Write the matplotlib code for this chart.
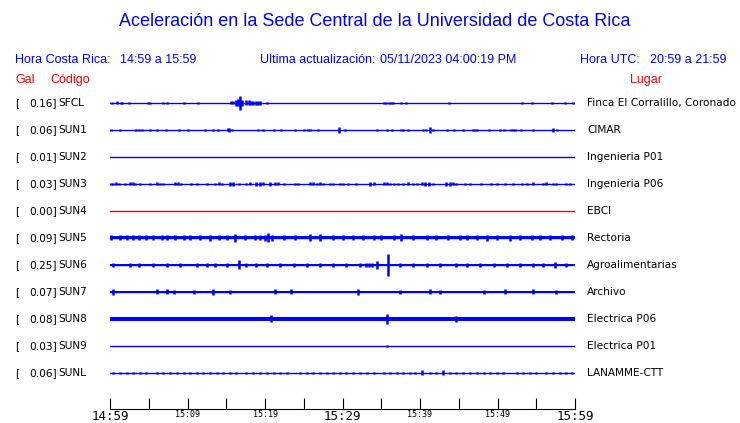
import matplotlib
matplotlib.use("Agg")
import matplotlib.pyplot as plt

# estaciones, valores maximos (Gal) y lugares
codes = ["SFCL", "SUN1", "SUN2", "SUN3", "SUN4", "SUN5", "SUN6", "SUN7", "SUN8", "SUN9", "SUNL"]
gal = [0.16, 0.06, 0.01, 0.03, 0.00, 0.09, 0.25, 0.07, 0.08, 0.03, 0.06]
places = ["Finca El Corralillo, Coronado", "CIMAR", "Ingenieria P01", "Ingenieria P06", "EBCI",
          "Rectoria", "Agroalimentarias", "Archivo", "Electrica P06", "Electrica P01", "LANAMME-CTT"]

# nivel de ruido continuo de cada traza (semi-amplitud)
noise = [0, 0, 0, 0, 0, 1.5, 1.0, 1.3, 1.8, 0, 0.3]

# eventos: (minutos despues de 14:59, semi-amplitud)
events = {
    "SFCL": [(0.2, 1), (0.9, 1.5), (1.4, 1), (1.6, 1), (2.5, 1), (4.9, 1), (5.2, 1), (6.9, 0.8),
             (7.4, 0.8), (9.6, 0.7), (11.3, 0.7), (15.6, 1.5), (15.9, 1.5), (16.2, 3), (16.5, 3.5),
             (16.8, 7), (17.0, 3), (17.6, 2.5), (17.9, 2.5), (18.2, 2), (18.5, 2), (18.8, 2),
             (19.1, 2), (19.3, 2), (20.3, 0.7), (35.3, 1.2), (35.6, 1), (36.0, 1.2), (36.3, 1.2),
             (36.5, 1), (37.5, 1), (38.2, 1), (43.8, 1), (53.2, 1), (54.4, 1), (57.0, 1),
             (58.7, 1), (59.8, 1)],
    "SUN1": [(0.1, 1.3), (1.3, 1), (3.4, 1), (3.7, 1), (4.1, 1), (5.1, 1), (6.0, 1), (7.2, 1.2),
             (8.9, 1.2), (10.1, 1), (12.3, 1), (13.3, 1), (13.9, 1), (15.2, 1.5), (15.4, 1.8),
             (15.8, 1), (19.1, 1), (19.8, 1), (21.2, 1), (22.1, 1), (23.9, 1), (25.0, 1),
             (25.5, 1), (25.8, 1), (26.8, 1), (29.6, 3.2), (30.3, 1.2), (34.4, 1), (35.7, 1),
             (36.4, 1), (37.6, 1), (37.8, 1), (38.5, 1), (40.4, 1), (40.8, 1), (41.3, 3.2),
             (41.7, 1), (43.5, 1), (44.4, 1), (45.6, 1), (46.8, 1.2), (47.1, 1.2), (47.3, 1.2),
             (48.9, 1), (50.3, 1), (50.8, 1), (51.7, 1), (52.0, 1), (52.3, 1), (53.0, 1),
             (54.6, 1), (57.2, 1.8), (57.7, 1)],
    "SUN2": [],
    "SUN3": [(0.1, 1.2), (0.4, 1), (0.8, 1.5), (1.1, 1), (1.9, 1.2), (2.6, 1.5), (3.0, 1.5),
             (3.2, 1.2), (3.9, 1.2), (5.2, 1), (6.0, 1.5), (6.5, 1.2), (6.9, 1), (8.4, 1.5),
             (8.8, 1.5), (9.2, 1.2), (10.5, 1.2), (11.2, 1), (12.5, 1), (13.5, 1.2), (14.0, 1.5),
             (14.5, 1.2), (15.5, 1.8), (15.9, 1.8), (16.6, 1.2), (17.6, 1), (18.1, 1.5),
             (18.9, 1.8), (19.4, 1.8), (19.8, 1.5), (20.6, 1.8), (21.3, 1.5), (21.7, 1.5),
             (22.4, 1.2), (23.9, 1.2), (24.3, 1), (25.8, 1.5), (26.2, 1.5), (26.7, 1.2),
             (27.1, 1.5), (27.5, 1.2), (28.4, 1.2), (28.8, 1.2), (29.7, 1), (30.1, 1.2),
             (30.7, 1), (31.8, 1), (33.5, 1.8), (34.0, 1.5), (35.3, 1.5), (35.7, 1.5),
             (36.1, 1.2), (36.6, 1.2), (37.2, 1.2), (37.8, 1), (38.5, 1.5), (39.1, 1.2),
             (39.6, 1.2), (40.2, 1.5), (40.6, 1.8), (41.1, 1.8), (41.7, 1.2), (43.4, 1.8),
             (43.9, 1.8), (44.3, 1.5), (44.7, 1.2), (45.8, 1), (46.4, 1), (47.9, 1), (49.2, 1.2),
             (49.9, 1.2), (51.0, 1.2), (52.0, 1.2), (53.1, 1.2), (53.8, 1.2), (54.6, 1.5),
             (55.9, 1.2), (56.3, 1.5), (57.2, 1.2), (57.6, 1.2), (58.9, 1), (59.3, 1)],
    "SUN4": [],
    "SUN5": [(0.1, 2.5), (1.3, 2.5), (2.2, 2.5), (3.0, 2.5), (3.7, 2.5), (4.7, 2.5), (5.6, 2.5),
             (6.7, 2.5), (7.3, 2.5), (8.4, 2.5), (9.5, 2.5), (10.3, 2.5), (11.6, 2.5), (12.9, 3),
             (14.0, 2.5), (15.1, 2.5), (16.1, 4), (17.4, 2.5), (18.7, 2.5), (19.4, 2.5),
             (20.0, 3), (20.4, 4.5), (20.9, 3), (22.4, 2.5), (23.9, 2.5), (25.8, 3.5), (27.1, 3.5),
             (28.8, 2.5), (30.1, 2.5), (31.4, 2.5), (32.7, 2.5), (34.0, 2.5), (35.0, 2.5),
             (36.6, 2.5), (37.6, 3.5), (39.1, 2.5), (40.9, 2.5), (42.1, 2.5), (43.6, 2.5),
             (45.2, 2.5), (46.0, 2.5), (47.3, 2.5), (48.6, 3), (49.9, 2.5), (51.6, 3), (52.9, 2.5),
             (54.4, 2.5), (55.5, 2.5), (56.8, 2.5), (58.3, 2.5), (59.6, 2.5)],
    "SUN6": [(0.4, 2), (2.6, 1.8), (3.7, 2), (5.6, 1.8), (7.3, 1.8), (9.0, 1.8), (11.2, 2),
             (12.5, 1.8), (13.5, 1.8), (15.1, 1.8), (16.7, 4.5), (17.6, 2), (18.9, 1.8),
             (20.2, 1.8), (21.9, 1.8), (23.7, 1.8), (25.4, 1.8), (27.1, 1.8), (28.8, 1.8),
             (30.5, 1.8), (32.3, 1.8), (33.0, 1.8), (33.4, 2), (33.8, 2), (34.4, 4), (35.9, 11),
             (37.4, 1.8), (39.1, 1.8), (40.9, 1.8), (42.6, 1.8), (44.7, 1.8), (46.0, 1.8),
             (47.7, 1.8), (49.5, 1.8), (51.2, 1.8), (52.9, 1.8), (54.6, 1.8), (55.9, 1.8),
             (57.4, 3), (58.9, 1.8)],
    "SUN7": [(0.4, 3), (6.0, 2.5), (7.3, 2.5), (8.2, 2), (10.8, 2), (13.3, 3), (15.5, 2),
             (21.3, 2.5), (23.4, 2.5), (32.0, 3), (37.4, 2), (41.3, 2.5), (42.6, 2), (48.2, 2),
             (51.0, 2.5), (54.6, 2.5), (57.6, 2)],
    "SUN8": [(20.8, 3.5), (35.7, 5), (44.7, 3)],
    "SUN9": [(35.7, 1.2)],
    "SUNL": [(0.4, 1.2), (1.3, 1), (2.2, 1.2), (3.0, 1), (3.9, 1.2), (4.7, 1), (6.0, 1.2),
             (6.9, 1), (7.7, 1.2), (8.6, 1), (9.5, 1.2), (10.3, 1), (11.2, 1.2), (12.0, 1),
             (12.9, 1.2), (13.8, 1), (14.6, 1.2), (15.5, 1), (16.3, 1.2), (17.6, 1.2), (18.5, 1),
             (19.4, 1.2), (20.2, 1), (21.1, 1.2), (21.9, 1), (22.8, 1), (24.5, 1.2), (25.4, 1),
             (26.2, 1.2), (27.1, 1), (28.0, 1.2), (28.8, 1), (29.7, 1.2), (30.5, 1), (31.4, 1.2),
             (32.3, 1), (33.1, 1.2), (34.0, 1.2), (35.3, 1.2), (36.1, 1.2), (37.0, 1), (37.8, 1.2),
             (38.7, 1), (39.3, 1.2), (40.2, 2.5), (41.3, 1.2), (42.1, 1), (43.0, 2.5), (43.9, 1.2),
             (44.7, 1), (45.6, 1.2), (46.4, 1), (47.3, 1.2), (48.2, 1), (49.0, 1.2), (49.9, 1),
             (50.7, 1.2), (52.5, 1), (53.3, 1.2), (54.2, 1), (55.0, 1.2), (56.3, 1), (57.2, 1.2),
             (58.1, 1), (58.9, 1.2), (59.6, 1)],
}

tick_min = [0, 5, 10, 15, 20, 25, 30, 35, 40, 45, 50, 55, 60]
tick_lab = ["14:59", "", "15:09", "", "15:19", "", "15:29", "", "15:39", "", "15:49", "", "15:59"]

W, H = 740, 423
fig = plt.figure(figsize=(W / 100, H / 100), dpi=100)
ax = fig.add_axes([110 / W, 0, 465 / W, 1])
ax.set_xlim(0, 60)
ax.set_ylim(H, 0)

for i, code in enumerate(codes):
    y0 = 103 + 27 * i
    col = "red" if code == "SUN4" else "blue"
    ax.plot([0, 60], [y0, y0], color=col, lw=1.0)
    if noise[i] > 0:
        ax.fill_between([0, 60], y0 - noise[i], y0 + noise[i], color=col, lw=0)
    ev = events[code]
    if ev:
        t = [e[0] for e in ev]
        a = [e[1] for e in ev]
        ax.vlines(t, [y0 - v for v in a], [y0 + v for v in a], color=col, lw=1.8)

    yf = 1 - y0 / H
    fig.text(15 / W, yf, "[", fontsize=7.6, va="center", family="DejaVu Sans")
    fig.text(56.5 / W, yf, "%.2f]" % gal[i], fontsize=7.6, va="center", ha="right", family="DejaVu Sans")
    fig.text(58.5 / W, yf, code, fontsize=7.6, va="center", family="DejaVu Sans")
    fig.text(587 / W, yf, places[i], fontsize=7.6, va="center", family="DejaVu Sans")

# eje de tiempo
for s in ["top", "left", "right"]:
    ax.spines[s].set_visible(False)
ax.spines["bottom"].set_position(("data", 409))
ax.set_yticks([])
ax.set_xticks(tick_min)
ax.set_xticklabels(tick_lab, family="DejaVu Sans Mono")
ax.tick_params(axis="x", direction="in", length=8, pad=0.5)
for k, lab in enumerate(ax.get_xticklabels()):
    lab.set_fontsize(9 if tick_min[k] % 30 == 0 else 6)

# textos
blue = "#0000ff"
fig.text(375 / W, 1 - 22 / H, "Aceleración en la Sede Central de la Universidad de Costa Rica",
         color=blue, fontsize=13, ha="center", va="center", family="Liberation Sans")
hdr = [(15, "Hora Costa Rica:"), (120, "14:59 a 15:59"), (260, "Ultima actualización:"),
       (380, "05/11/2023 04:00:19 PM"), (580, "Hora UTC:"), (650, "20:59 a 21:59")]
for x, s in hdr:
    fig.text(x / W, 1 - 60 / H, s, color=blue, fontsize=9, va="center", family="Liberation Sans")
for x, s in [(15, "Gal"), (50, "Código"), (630, "Lugar")]:
    fig.text(x / W, 1 - 80 / H, s, color="red", fontsize=9, va="center", family="Liberation Sans")

fig.savefig("out.png", dpi=100)
